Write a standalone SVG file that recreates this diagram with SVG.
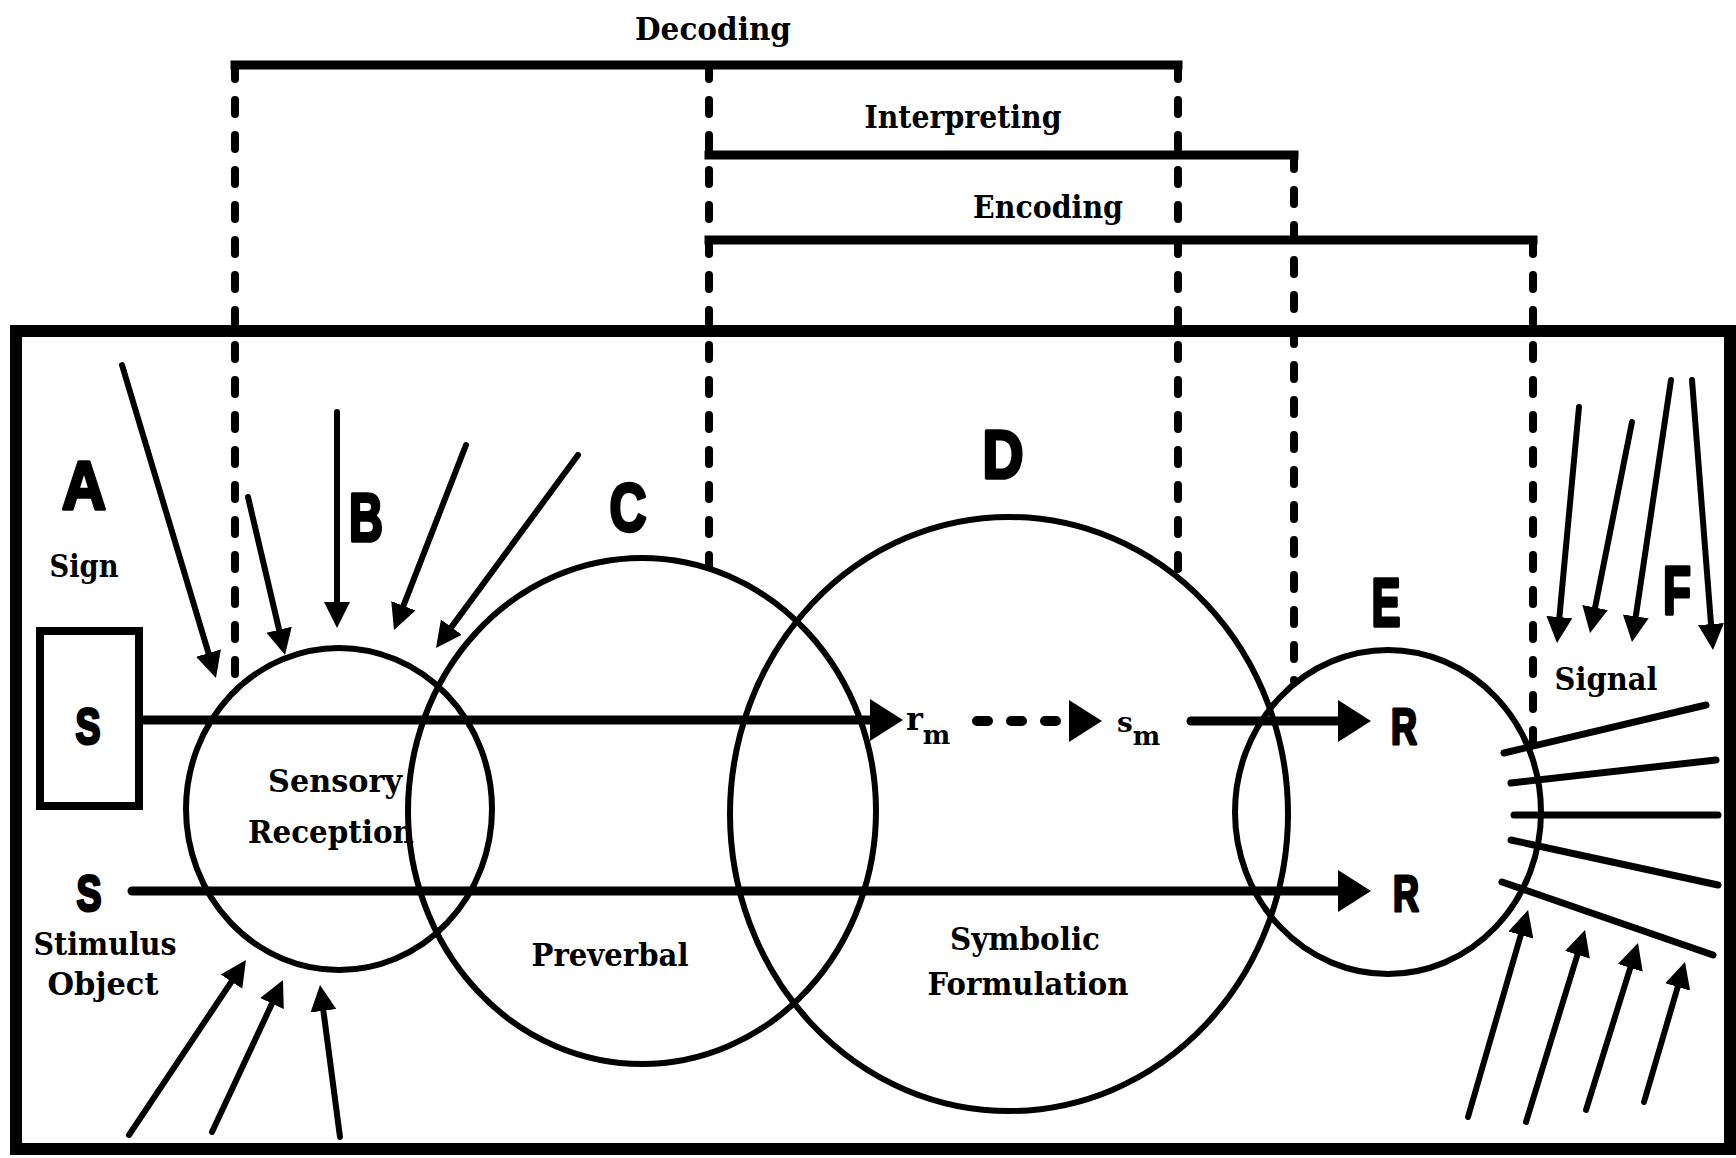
<svg xmlns="http://www.w3.org/2000/svg" width="1736" height="1158" viewBox="0 0 1736 1158">
  <style>
    .frame { fill: none; stroke: #000; stroke-width: 12; }
    .box { fill: none; stroke: #000; stroke-width: 8; }
    .ring { fill: none; stroke: #000; stroke-width: 6; }
    .bar { fill: none; stroke: #000; stroke-width: 9; stroke-linecap: square; }
    .dash { fill: none; stroke: #000; stroke-width: 8; stroke-linecap: round; stroke-dasharray: 14 21; }
    .flow { fill: none; stroke: #000; stroke-width: 9; stroke-linecap: round; marker-end: url(#headLg); }
    .flowdash { fill: none; stroke: #000; stroke-width: 10; stroke-linecap: round; stroke-dasharray: 11 23; marker-end: url(#headLg); }
    .ray { fill: none; stroke: #000; stroke-width: 6; stroke-linecap: round; marker-end: url(#headSm); }
    .sig { fill: none; stroke: #000; stroke-width: 7; stroke-linecap: round; }
    .word { font-family: "DejaVu Serif", "Liberation Serif", serif; font-weight: bold; font-size: 31px; text-anchor: middle; fill: #000; }
    .big { font-family: "Liberation Sans", "DejaVu Sans", sans-serif; font-weight: bold; font-size: 68px; text-anchor: middle; fill: #000; stroke: #000; stroke-width: 3.5; stroke-linejoin: round; }
    .mid { font-family: "Liberation Sans", "DejaVu Sans", sans-serif; font-weight: bold; font-size: 50px; text-anchor: middle; fill: #000; stroke: #000; stroke-width: 3; stroke-linejoin: round; }
    .sym { font-family: "DejaVu Serif", "Liberation Serif", serif; font-weight: bold; fill: #000; }
  </style>
  <defs>
    <marker id="headLg" markerUnits="userSpaceOnUse" viewBox="0 -22 34 44" markerWidth="34" markerHeight="44" refX="0" refY="0" orient="auto">
      <path d="M0,-21 L33,0 L0,21 Z" fill="#000"/>
    </marker>
    <marker id="headSm" markerUnits="userSpaceOnUse" viewBox="0 -14 27 28" markerWidth="27" markerHeight="28" refX="0" refY="0" orient="auto">
      <path d="M0,-13 L26,0 L0,13 Z" fill="#000"/>
    </marker>
  </defs>

  <rect id="frame" class="frame" x="16" y="331" width="1714" height="818"/>

  <!-- process brackets above the frame -->
  <g id="decoding">
    <text class="word" x="713" y="40" textLength="156" lengthAdjust="spacingAndGlyphs">Decoding</text>
    <line class="bar" x1="235" y1="65" x2="1178" y2="65"/>
  </g>
  <g id="interpreting">
    <text class="word" x="963" y="128" textLength="197" lengthAdjust="spacingAndGlyphs">Interpreting</text>
    <line class="bar" x1="709" y1="155" x2="1294" y2="155"/>
  </g>
  <g id="encoding">
    <text class="word" x="1048" y="218" textLength="150" lengthAdjust="spacingAndGlyphs">Encoding</text>
    <line class="bar" x1="709" y1="240" x2="1533" y2="240"/>
  </g>

  <!-- A: sign / stimulus object -->
  <g id="node-a">
    <text class="big" x="84" y="509" textLength="44" lengthAdjust="spacingAndGlyphs">A</text>
    <text class="word" x="84" y="577" textLength="69" lengthAdjust="spacingAndGlyphs">Sign</text>
    <rect class="box" x="40" y="631" width="99" height="175"/>
    <text class="mid" x="88" y="744" textLength="25" lengthAdjust="spacingAndGlyphs">S</text>
    <text class="mid" x="89" y="911" textLength="25" lengthAdjust="spacingAndGlyphs">S</text>
    <text class="word" x="105" y="955" textLength="143" lengthAdjust="spacingAndGlyphs">Stimulus</text>
    <text class="word" x="103" y="995" textLength="111" lengthAdjust="spacingAndGlyphs">Object</text>
  </g>

  <!-- B: sensory reception -->
  <g id="node-b">
    <ellipse class="ring" cx="339" cy="809" rx="153" ry="161"/>
    <text class="big" x="366" y="541" textLength="34" lengthAdjust="spacingAndGlyphs">B</text>
    <text class="word" x="335" y="792" textLength="134" lengthAdjust="spacingAndGlyphs">Sensory</text>
    <text class="word" x="331" y="843" textLength="166" lengthAdjust="spacingAndGlyphs">Reception</text>
  </g>

  <!-- C: preverbal -->
  <g id="node-c">
    <ellipse class="ring" cx="642" cy="811" rx="234" ry="253"/>
    <text class="big" x="628" y="531" textLength="37" lengthAdjust="spacingAndGlyphs">C</text>
    <text class="word" x="610" y="966" textLength="157" lengthAdjust="spacingAndGlyphs">Preverbal</text>
  </g>

  <!-- D: symbolic formulation -->
  <g id="node-d">
    <ellipse class="ring" cx="1009" cy="814" rx="279" ry="297"/>
    <text class="big" x="1003" y="478" textLength="41" lengthAdjust="spacingAndGlyphs">D</text>
    <text class="word" x="1025" y="950" textLength="150" lengthAdjust="spacingAndGlyphs">Symbolic</text>
    <text class="word" x="1028" y="995" textLength="201" lengthAdjust="spacingAndGlyphs">Formulation</text>
    <text class="sym" x="906" y="730" font-size="32">r<tspan font-size="26" dy="14">m</tspan></text>
    <text class="sym" x="1117" y="732" font-size="28">s<tspan font-size="26" dy="13">m</tspan></text>
  </g>

  <!-- E: response -->
  <g id="node-e">
    <ellipse class="ring" cx="1388" cy="812" rx="153" ry="162"/>
    <text class="big" x="1386" y="626" textLength="29" lengthAdjust="spacingAndGlyphs">E</text>
    <text class="mid" x="1404" y="744" textLength="26" lengthAdjust="spacingAndGlyphs">R</text>
    <text class="mid" x="1406" y="911" textLength="26" lengthAdjust="spacingAndGlyphs">R</text>
  </g>

  <!-- F: signal -->
  <g id="node-f">
    <text class="big" x="1677" y="614" textLength="28" lengthAdjust="spacingAndGlyphs">F</text>
    <text class="word" x="1606" y="690" textLength="103" lengthAdjust="spacingAndGlyphs">Signal</text>
    <line class="sig" x1="1504" y1="753" x2="1706" y2="705"/>
    <line class="sig" x1="1511" y1="783" x2="1716" y2="760"/>
    <line class="sig" x1="1514" y1="815" x2="1718" y2="815"/>
    <line class="sig" x1="1511" y1="840" x2="1718" y2="885"/>
    <line class="sig" x1="1502" y1="882" x2="1713" y2="955"/>
  </g>

  <g id="connectors">
    <!-- dashed drop lines from the brackets -->
    <line class="dash" x1="235" y1="65" x2="235" y2="688"/>
    <line class="dash" x1="709" y1="65" x2="709" y2="567"/>
    <line class="dash" x1="1178" y1="65" x2="1178" y2="577"/>
    <line class="dash" x1="1294" y1="155" x2="1294" y2="681"/>
    <line class="dash" x1="1533" y1="240" x2="1533" y2="743"/>

    <!-- stimulus paths -->
    <line class="flow" x1="143" y1="720" x2="870" y2="720"/>
    <line class="flowdash" x1="977" y1="721" x2="1069" y2="721"/>
    <line class="flow" x1="1191" y1="721" x2="1338" y2="721"/>
    <line class="flow" x1="132" y1="891" x2="1338" y2="891"/>

    <!-- incoming stimuli around B -->
    <line class="ray" x1="122" y1="365" x2="208.5" y2="653.1"/>
    <line class="ray" x1="248" y1="497" x2="279.1" y2="629.7"/>
    <line class="ray" x1="337" y1="412" x2="337" y2="602"/>
    <line class="ray" x1="466" y1="445" x2="403.4" y2="605.8"/>
    <line class="ray" x1="578" y1="455" x2="451.4" y2="627.1"/>
    <line class="ray" x1="129" y1="1135" x2="231.5" y2="981.6"/>
    <line class="ray" x1="212" y1="1132" x2="272" y2="1003.6"/>
    <line class="ray" x1="340" y1="1137" x2="323.4" y2="1010.8"/>

    <!-- incoming stimuli around F -->
    <line class="ray" x1="1579" y1="407" x2="1559.4" y2="617.1"/>
    <line class="ray" x1="1632" y1="422" x2="1595.1" y2="607.5"/>
    <line class="ray" x1="1671" y1="380" x2="1635.8" y2="616.3"/>
    <line class="ray" x1="1692" y1="380" x2="1711" y2="624.1"/>
    <line class="ray" x1="1468" y1="1117" x2="1520.8" y2="935"/>
    <line class="ray" x1="1526" y1="1122" x2="1577.4" y2="954.8"/>
    <line class="ray" x1="1586" y1="1110" x2="1630.3" y2="967.8"/>
    <line class="ray" x1="1644" y1="1102" x2="1677.7" y2="987"/>
  </g>
</svg>
